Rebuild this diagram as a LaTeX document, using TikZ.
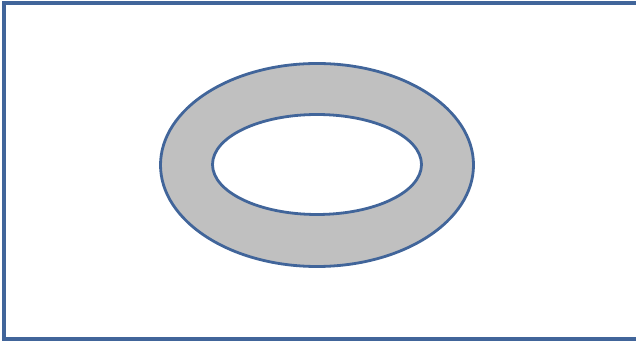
\documentclass[tikz,border=0pt]{standalone}
\usetikzlibrary{calc}
\definecolor{cblue}{HTML}{41659A}
\definecolor{cring}{HTML}{C0C0C0}

\begin{document}
\begin{tikzpicture}[x=1pt, y=1pt,
  frame/.style={draw=cblue, line width=4pt},
  rim/.style={draw=cblue, line width=2.8pt}]
\useasboundingbox (0,0) rectangle (636,342);

% open frame, right side runs off the page
\draw[frame] (640,339) -- (4,339) -- (4,3) -- (640,3);

% ring
\coordinate (c) at (317,177);
\draw[rim, fill=cring] (c) ellipse [x radius=156.5, y radius=101.5];
\draw[rim, fill=white] ($(c)+(0,0.5)$) ellipse [x radius=104.5, y radius=50];
\end{tikzpicture}
\end{document}
